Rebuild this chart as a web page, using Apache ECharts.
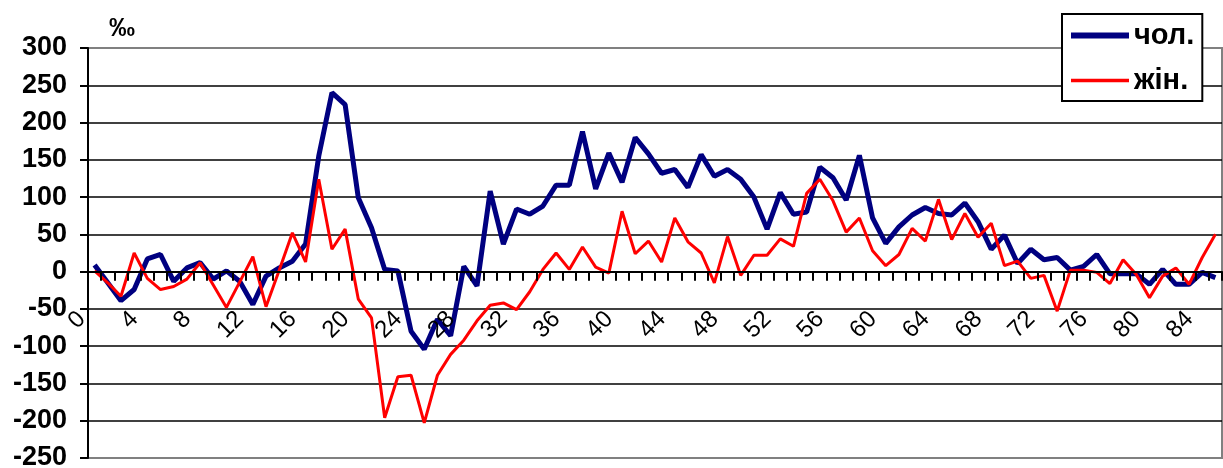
<!DOCTYPE html>
<html>
<head>
<meta charset="utf-8">
<script src="https://cdn.jsdelivr.net/npm/echarts@6/dist/echarts.min.js"></script>
<style>
html,body{margin:0;padding:0;background:#fff;}
#c{width:1223px;height:468px;}
</style>
</head>
<body>
<div id="c"></div>
<script>
// ages 0..85
const ages = [];
for (let i = 0; i <= 85; i++) ages.push(String(i));

const seriesNames = ['чол.', 'жін.'];
const unitLabel = '‰';

const male = [
  9, -15, -39, -24, 17, 23, -13, 5, 12, -10,
  1, -13, -44, -6, 5, 14, 37, 155, 240, 224,
  99, 59, 3, 1, -80, -104, -64, -86, 7, -19,
  108, 37, 84, 77, 88, 116, 116, 188, 111, 159,
  120, 180, 158, 132, 137, 113, 157, 128, 137, 124,
  100, 57, 106, 77, 80, 140, 126, 96, 156, 72,
  38, 60, 76, 86, 78, 76, 92, 67, 30, 49,
  11, 30, 16, 19, 2, 7, 23, -3, -3, -3,
  -17, 3, -17, -17, -1, -8
];

const female = [
  1, -15, -33, 25, -9, -24, -20, -10, 12, -18,
  -48, -14, 20, -47, 2, 52, 13, 124, 30, 57,
  -37, -62, -196, -141, -139, -203, -139, -111, -92, -66,
  -45, -42, -51, -27, 3, 25, 3, 33, 6, -2,
  81, 24, 41, 13, 72, 40, 25, -15, 47, -5,
  22, 22, 44, 34, 105, 124, 95, 53, 72, 28,
  8, 23, 58, 41, 97, 43, 78, 46, 65, 8,
  14, -9, -5, -53, 2, 2, -1, -16, 16, -4,
  -35, -6, 5, -17, 19, 50
];

const yMin = -250, yMax = 300, yStep = 50;

const FONT = '"Liberation Sans", Arial, sans-serif';
const splitColors = [];
for (let v = yMin; v <= yMax; v += yStep) {
  splitColors.push(v === yMin || v === yMax ? '#808080' : '#000000');
}

const gridTop = 48, gridBottom = 10, H = 468, gridLeft = 88, gridRight = 1;
const zeroY = gridTop + (H - gridTop - gridBottom) * (yMax - 0) / (yMax - yMin);

const chart = echarts.init(document.getElementById('c'), null, {renderer: 'canvas'});
chart.setOption({
  animation: false,
  backgroundColor: '#ffffff',
  title: {
    text: unitLabel,
    left: 104,
    top: 11,
    textStyle: {fontFamily: FONT, fontWeight: 'bold', fontSize: 26, color: '#000'}
  },
  grid: [
    {
      left: gridLeft, right: gridRight, top: gridTop, bottom: gridBottom,
      outerBoundsMode: 'none', containLabel: false,
      show: true, borderColor: '#808080', borderWidth: 2, backgroundColor: 'transparent'
    },
    {
      // helper grid whose bottom edge is the zero line: carries the category axis
      left: gridLeft, right: gridRight, top: gridTop, bottom: H - zeroY,
      outerBoundsMode: 'none', containLabel: false, show: false
    }
  ],
  legend: {
    orient: 'vertical',
    left: 1062, top: 14,
    padding: [7, 8, 6, 6],
    itemGap: 16,
    itemWidth: 58, itemHeight: 14,
    backgroundColor: '#ffffff',
    borderColor: '#000000', borderWidth: 2, borderRadius: 0,
    itemStyle: {opacity: 0},
    textStyle: {fontFamily: FONT, fontWeight: 'bold', fontSize: 29, color: '#000'},
    data: [
      {name: seriesNames[0], lineStyle: {width: 6}},
      {name: seriesNames[1], lineStyle: {width: 3.5}}
    ]
  },
  xAxis: [
    {
      gridIndex: 0, type: 'category', data: ages, boundaryGap: true,
      axisLine: {show: false}, axisTick: {show: false}, axisLabel: {show: false},
      splitLine: {show: false}
    },
    {
      gridIndex: 1, type: 'category', data: ages, boundaryGap: true,
      position: 'bottom',
      z: 10,
      axisLine: {show: true, onZero: false, lineStyle: {color: '#000', width: 2}},
      axisTick: {show: true, interval: 0, length: 9, lineStyle: {color: '#000', width: 2}},
      axisLabel: {
        interval: 3, rotate: 45, margin: 31,
        padding: [0, 18, 0, 0],
        fontFamily: FONT, fontSize: 24, color: '#000'
      },
      splitLine: {show: false}
    }
  ],
  yAxis: [
    {
      gridIndex: 0, type: 'value',
      min: yMin, max: yMax, interval: yStep,
      axisLine: {show: true, lineStyle: {color: '#000', width: 2}},
      axisTick: {show: true, length: 8, lineStyle: {color: '#000', width: 2}},
      axisLabel: {margin: 21, fontFamily: FONT, fontWeight: 'bold', fontSize: 27, color: '#000'},
      splitLine: {show: true, lineStyle: {color: splitColors, width: 1.5}}
    },
    {
      gridIndex: 1, type: 'value', min: 0, max: 1, show: false
    }
  ],
  series: [
    {
      name: seriesNames[0], type: 'line', data: male,
      xAxisIndex: 0, yAxisIndex: 0,
      symbol: 'none', showSymbol: false,
      lineStyle: {color: '#000080', width: 5},
      itemStyle: {color: '#000080'},
      z: 3
    },
    {
      name: seriesNames[1], type: 'line', data: female,
      xAxisIndex: 0, yAxisIndex: 0,
      symbol: 'none', showSymbol: false,
      lineStyle: {color: '#ff0000', width: 3},
      itemStyle: {color: '#ff0000'},
      z: 4
    }
  ]
});
</script>
</body>
</html>
